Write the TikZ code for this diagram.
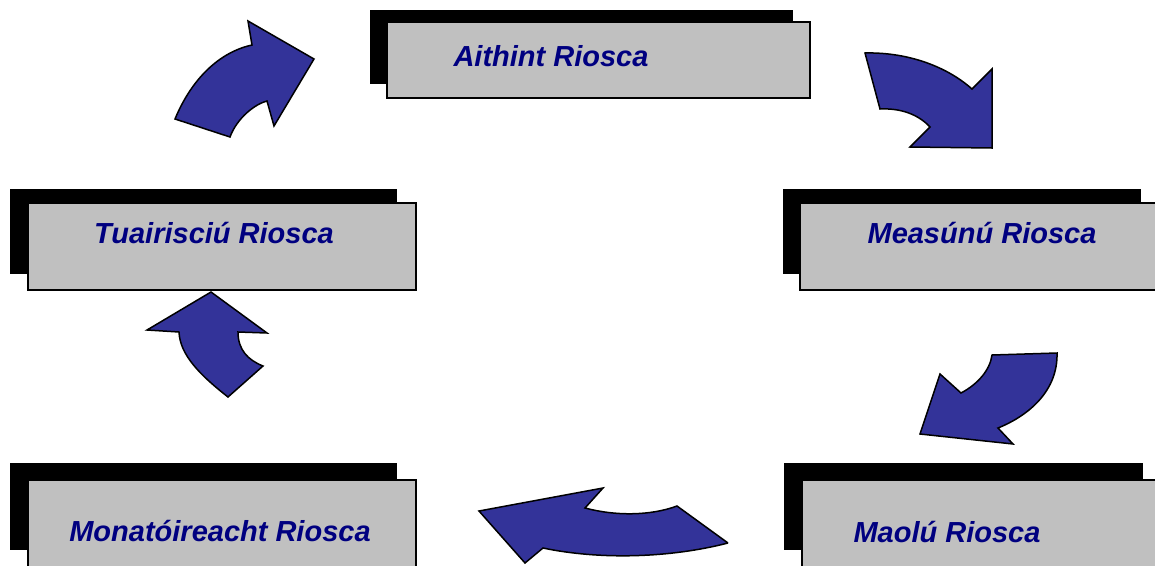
\documentclass[tikz,border=0pt]{standalone}
\usepackage{fontspec}
\setmainfont{Liberation Sans}
\definecolor{arrowblue}{HTML}{333399}
\definecolor{boxgray}{HTML}{C0C0C0}
\definecolor{textnavy}{HTML}{000080}
\begin{document}
\begin{tikzpicture}[x=1pt,y=-1pt,
  shadowbox/.style={fill=black},
  graybox/.style={fill=boxgray,draw=black,line width=1.5pt},
  steplabel/.style={text=textnavy,font=\fontsize{29}{34}\selectfont\bfseries\itshape,anchor=base,inner sep=0pt},
  cyclearrow/.style={fill=arrowblue,draw=black,line width=1.5pt,line join=miter}]
\useasboundingbox (0,0) rectangle (1155,565);
\clip (0,0) rectangle (1155,565);
\fill[white] (0,0) rectangle (1155,565);
% boxes
\fill[shadowbox] (370,10) rectangle (793,84);
\draw[graybox] (387,22) rectangle (810,98);
\fill[shadowbox] (10,189) rectangle (397,274);
\draw[graybox] (28,203) rectangle (416,290);
\fill[shadowbox] (783,189) rectangle (1141,274);
\draw[graybox] (800,203) rectangle (1175,290);
\fill[shadowbox] (10,463) rectangle (397,550);
\draw[graybox] (28,480) rectangle (416,585);
\fill[shadowbox] (784,463) rectangle (1143,550);
\draw[graybox] (802,480) rectangle (1175,585);
% labels
\node[steplabel] (aithint) at (551,66) {Aithint Riosca};
\node[steplabel] (measunu) at (982,243) {Measúnú Riosca};
\node[steplabel] (maolu) at (947,542) {Maolú Riosca};
\node[steplabel] (monatoireacht) at (220,541) {Monatóireacht Riosca};
\node[steplabel] (tuairisciu) at (214,243) {Tuairisciú Riosca};
% arrows
\draw[cyclearrow] (175,119) .. controls (192,78) and (220,52) .. (252,45)
  -- (248,21) -- (314,59) -- (274,126) -- (267,101)
  .. controls (255,104) and (237,118) .. (230,137) -- cycle;
\draw[cyclearrow] (865,53) .. controls (905,52) and (945,65) .. (972,89)
  -- (992,69) -- (992,148) -- (910,147) -- (930,127)
  .. controls (918,114) and (900,108) .. (880,109) -- cycle;
\draw[cyclearrow] (1057,353) .. controls (1058,390) and (1030,415) .. (998,428)
  -- (1013,444) -- (920,434) -- (940,374) -- (961,393)
  .. controls (978,384) and (990,370) .. (992,355) -- cycle;
\draw[cyclearrow] (728,543) -- (677,506)
  .. controls (650,516) and (615,516) .. (585,508)
  -- (603,488) -- (479,511) -- (525,563) -- (543,548)
  .. controls (600,560) and (670,558) .. (728,543);
\draw[cyclearrow] (228,397) .. controls (200,375) and (180,355) .. (179,332)
  -- (147,330) -- (211,292) -- (267,333) -- (238,332)
  .. controls (238,350) and (248,360) .. (263,366) -- cycle;
\end{tikzpicture}
\end{document}
